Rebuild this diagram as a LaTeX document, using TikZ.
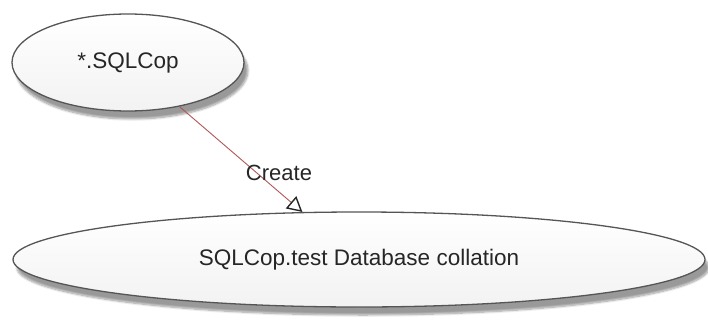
\documentclass[tikz,border=0pt]{standalone}
\usepackage{fontspec}
\setmainfont{Liberation Sans}
\usepackage{xcolor}
\usepackage{tikz}
\usetikzlibrary{shapes.geometric, arrows.meta, positioning, shadows.blur}

\definecolor{linkred}{RGB}{175,85,85}
\definecolor{edgegray}{RGB}{85,85,85}

\begin{document}
\begin{tikzpicture}[
        x=1pt, y=1pt,
        usecase/.style={ellipse, draw=edgegray, line width=1.3pt, top color=white, bottom color=black!5, font=\fontsize{22.5}{27}\selectfont, text=black!85, inner sep=0pt, blur shadow={shadow xshift=4pt, shadow yshift=-8pt, shadow blur steps=8, shadow opacity=40}},
        arr/.style={-{Triangle[open, length=15pt, width=16pt, color=black!85, line width=1.4pt]}, draw=linkred, line width=0.9pt},
        lbl/.style={font=\fontsize{22}{26}\selectfont, text=black!85, inner sep=0pt}
    ]
    \useasboundingbox (0,0) rectangle (708,322);
    \node[usecase, minimum width=232pt, minimum height=97pt] (sqlcop) at (128,259.5) {*.SQLCop};
    \node[usecase, minimum width=692pt, minimum height=95pt] (collation) at (359,62.5) {SQLCop.test Database collation};

    \draw[arr] (sqlcop) -- (collation.140);

    % Stereotype of the link
    \node[lbl] (create) at (279,149) {Create};
\end{tikzpicture}
\end{document}
